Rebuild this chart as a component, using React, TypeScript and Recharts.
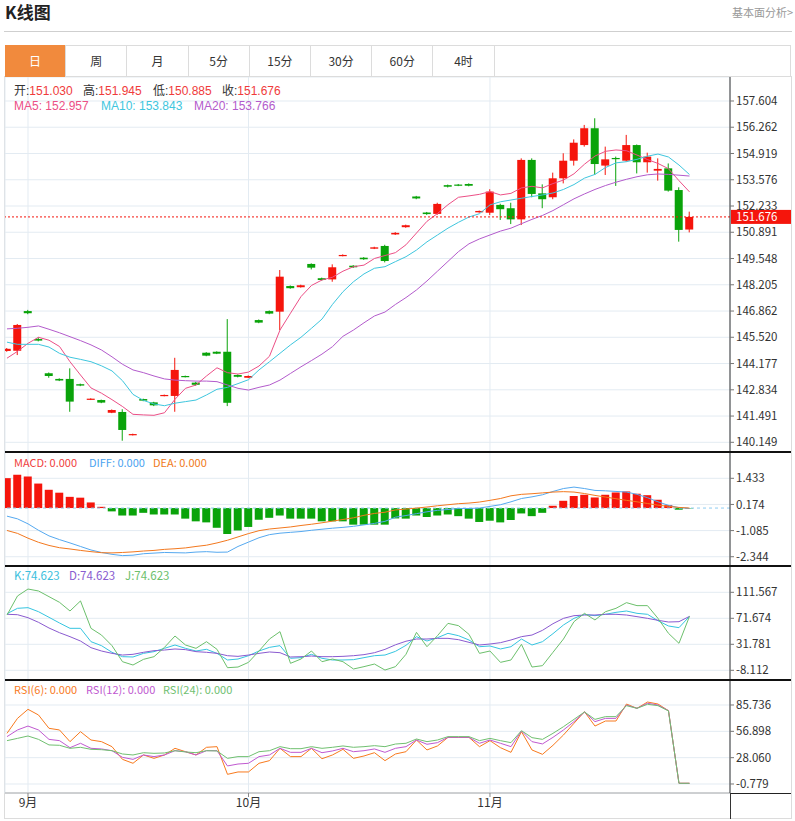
import React from 'react';
import { ComposedChart, Bar, Line, XAxis, YAxis, CartesianGrid, ReferenceLine, Cell } from 'recharts';

const dates = ['08-29','08-30','09-02','09-03','09-04','09-05','09-06','09-09','09-10','09-11','09-12','09-13','09-16','09-17','09-18','09-19','09-20','09-23','09-24','09-25','09-26','09-27','09-30','10-01','10-02','10-03','10-04','10-07','10-08','10-09','10-10','10-11','10-14','10-15','10-16','10-17','10-18','10-21','10-22','10-23','10-24','10-25','10-28','10-29','10-30','10-31','11-01','11-04','11-05','11-06','11-07','11-08','11-11','11-12','11-13','11-14','11-15','11-18','11-19','11-20','11-21','11-22','11-25','11-26','11-27','11-28'];

const openP = [144.82,144.83,146.86,145.43,143.68,143.39,143.39,143.12,142.33,142.31,
  141.66,141.70,140.52,142.36,142.19,142.52,142.52,143.54,143.20,144.73,
  144.78,144.78,143.59,143.45,146.40,146.86,146.83,148.14,148.08,149.27,
  148.54,148.48,149.68,149.18,149.59,150.05,150.19,150.78,151.15,152.72,
  151.90,151.83,153.30,153.33,153.36,151.91,151.89,152.29,152.12,151.55,
  154.59,152.88,152.68,153.65,154.55,155.35,156.21,154.30,154.69,154.55,
  155.35,154.47,154.04,154.16,153.05,151.03];
const highP = [144.97,146.20,146.92,145.52,143.72,143.42,143.93,143.15,142.40,142.33,
  141.83,141.84,140.59,142.38,142.22,142.59,144.47,143.56,143.24,144.76,
  144.80,146.45,143.62,143.57,146.43,146.89,148.96,148.17,148.21,149.30,
  148.57,149.25,149.76,149.21,149.62,150.15,150.25,150.90,151.28,152.75,
  151.93,152.40,153.33,153.36,153.39,152.00,153.09,152.35,152.40,154.67,
  154.67,153.34,153.94,154.93,155.64,156.38,156.72,155.27,154.76,155.87,
  155.38,154.96,154.67,154.41,153.19,151.945];
const lowP = [144.78,144.61,146.70,145.31,143.45,143.28,141.71,143.02,142.31,142.15,
  141.64,140.23,140.50,142.25,142.00,142.50,141.71,143.47,143.04,144.55,
  144.66,142.00,143.47,143.43,146.24,146.70,145.89,148.00,148.06,148.99,
  148.42,148.36,149.66,149.07,149.48,150.03,149.35,150.75,151.12,152.58,
  151.78,151.78,153.18,153.25,153.24,151.89,151.77,151.52,151.31,151.26,
  152.68,152.12,152.58,153.39,154.30,155.27,153.82,153.82,153.26,154.50,
  153.90,153.94,153.53,152.97,150.41,150.885];
const closeP = [144.93,146.15,146.75,145.35,143.54,143.31,142.23,143.05,142.38,142.18,
  141.80,140.78,140.57,142.28,142.04,142.57,143.85,143.49,143.09,144.58,
  144.68,142.17,143.50,143.54,146.27,146.73,148.62,148.03,148.18,149.08,
  148.45,149.10,149.73,149.10,149.51,150.12,149.42,150.86,151.25,152.62,
  151.82,152.34,153.22,153.28,153.27,151.98,152.97,152.07,151.55,154.59,
  152.85,152.58,153.65,154.55,155.47,156.21,154.38,154.62,154.65,155.35,
  154.47,154.76,154.13,153.02,151.01,151.676];

const ma5 = [144.45,144.80,145.21,145.52,145.37,145.05,144.27,143.59,142.93,142.66,
  142.33,141.98,141.58,141.55,141.53,141.66,142.35,142.91,143.08,143.54,
  143.96,143.71,143.64,143.74,144.05,144.55,145.89,146.75,147.60,148.17,
  148.45,148.59,148.90,149.13,149.21,149.55,149.70,149.85,150.25,150.85,
  151.45,151.85,152.30,152.68,152.75,152.83,152.97,152.80,152.88,153.16,
  153.24,153.16,153.38,153.56,153.88,154.37,154.79,155.03,155.10,155.06,
  154.84,154.61,154.41,154.14,153.53,152.957];
const ma10 = [145.27,145.16,145.16,145.16,145.02,144.70,144.50,144.39,144.27,144.06,
  143.80,143.30,142.60,142.29,142.11,142.02,142.15,142.23,142.31,142.57,
  142.86,142.96,143.15,143.35,143.85,144.27,144.70,145.13,145.52,145.98,
  146.45,147.20,147.85,148.36,148.76,149.05,149.13,149.39,149.64,149.98,
  150.40,150.75,151.10,151.40,151.67,151.84,152.29,152.45,152.54,152.63,
  152.72,152.80,152.90,153.08,153.33,153.66,153.85,154.20,154.44,154.50,
  154.62,154.78,154.89,154.74,154.33,153.843];
const ma20 = [145.95,145.98,146.03,146.10,145.93,145.75,145.55,145.35,145.13,144.87,
  144.52,144.14,143.85,143.71,143.54,143.39,143.33,143.30,143.28,143.28,
  143.25,143.08,142.91,142.82,142.96,143.08,143.33,143.67,144.01,144.33,
  144.66,145.04,145.57,145.89,146.26,146.61,146.81,147.20,147.55,147.94,
  148.40,148.90,149.40,149.90,150.30,150.55,150.75,150.95,151.10,151.33,
  151.55,151.75,152.00,152.30,152.60,152.85,153.08,153.28,153.45,153.60,
  153.73,153.83,153.87,153.85,153.81,153.766];

const macdHist = [1.44,1.60,1.52,1.18,0.88,0.74,0.54,0.50,0.27,0.06,
  -0.16,-0.36,-0.36,-0.23,-0.31,-0.31,-0.31,-0.51,-0.64,-0.69,
  -0.95,-1.25,-1.08,-0.91,-0.56,-0.47,-0.36,-0.51,-0.51,-0.51,
  -0.64,-0.64,-0.64,-0.80,-0.80,-0.80,-0.80,-0.50,-0.51,-0.36,
  -0.43,-0.36,-0.31,-0.39,-0.51,-0.67,-0.61,-0.69,-0.58,-0.26,
  -0.39,-0.23,0.11,0.35,0.58,0.64,0.51,0.64,0.75,0.80,
  0.69,0.62,0.40,0.14,-0.08,-0.02];
const diffV = [-0.39,-0.52,-0.76,-1.07,-1.34,-1.52,-1.68,-1.85,-2.02,-2.14,
  -2.23,-2.29,-2.27,-2.20,-2.17,-2.14,-2.15,-2.16,-2.12,-2.10,
  -2.13,-2.12,-1.85,-1.64,-1.43,-1.28,-1.21,-1.17,-1.13,-1.07,
  -1.02,-0.97,-0.93,-0.88,-0.81,-0.74,-0.64,-0.44,-0.36,-0.27,
  -0.18,-0.11,-0.07,-0.02,-0.02,0.00,0.08,0.16,0.30,0.46,
  0.54,0.64,0.80,0.94,1.01,0.94,0.85,0.83,0.80,0.77,
  0.66,0.50,0.30,0.13,0.02,-0.02];
const deaV = [-1.08,-1.22,-1.45,-1.65,-1.80,-1.91,-1.97,-2.04,-2.10,-2.15,
  -2.16,-2.14,-2.11,-2.07,-2.04,-1.99,-1.96,-1.92,-1.85,-1.79,
  -1.68,-1.55,-1.39,-1.23,-1.09,-1.01,-0.96,-0.91,-0.84,-0.78,
  -0.71,-0.63,-0.55,-0.47,-0.35,-0.26,-0.20,-0.09,-0.05,0.00,
  0.05,0.11,0.16,0.21,0.24,0.29,0.37,0.46,0.59,0.66,
  0.69,0.73,0.77,0.79,0.77,0.70,0.61,0.53,0.45,0.37,
  0.30,0.22,0.14,0.08,0.03,0.00];

const kV = [78.8,87.0,88.0,81.8,73.2,64.5,56.3,56.3,35.8,29.7,
  19.5,12.8,12.3,17.9,20.5,25.6,30.7,25.6,21.5,24.1,
  17.9,7.7,9.2,14.3,21.5,27.1,29.7,10.3,11.3,16.4,
  10.3,7.7,7.7,8.2,11.3,14.3,15.3,21.0,30.2,43.5,
  36.8,41.9,48.6,45.0,38.4,28.1,29.2,24.6,28.1,39.9,
  30.7,35.8,48.1,61.4,71.6,77.8,75.7,77.8,80.8,82.9,
  79.3,77.8,68.0,59.9,57.3,74.623];
const dV = [77.8,77.2,72.6,65.5,56.8,49.6,43.5,36.8,26.6,21.5,
  17.9,15.3,16.4,19.5,22.0,23.0,24.6,23.6,20.5,19.5,
  17.9,14.3,13.3,15.3,17.9,20.0,18.9,12.3,12.8,13.8,
  12.8,12.8,13.3,14.3,15.9,18.9,24.0,31.0,36.5,39.9,
  39.9,40.9,40.9,38.9,34.8,30.7,32.2,34.3,38.4,43.5,
  46.0,53.2,63.4,71.6,75.7,76.7,76.7,77.8,77.8,76.7,
  74.2,71.6,68.6,66.0,66.5,74.623];
const jV = [76.7,105.9,116.6,113.6,104.9,96.2,82.9,98.3,56.3,46.0,
  29.7,5.1,0.0,8.7,12.8,27.1,44.5,30.7,25.6,35.8,
  24.1,-4.1,-3.1,4.1,21.5,39.9,51.2,2.6,9.2,21.5,
  5.1,9.2,5.1,-6.1,-2.5,1.5,-7.7,-2.5,16.4,50.1,
  28.1,45.0,63.9,60.4,47.1,17.9,21.5,4.1,7.7,31.7,
  -3.1,-1.0,19.5,39.9,66.5,79.3,69.1,81.8,87.0,95.7,
  91.1,91.1,71.6,48.6,33.3,74.623];

const rsi6V = [54.7,71.1,81.0,74.8,60.2,58.4,45.6,56.5,47.4,45.6,
  40.1,26.2,21.9,31.0,27.3,31.0,38.3,34.6,31.0,39.4,
  40.1,9.8,12.4,12.4,21.9,24.8,38.3,29.2,29.2,38.3,
  26.9,31.0,37.2,27.3,29.9,33.5,24.8,32.1,34.6,47.4,
  36.5,40.9,50.3,50.3,50.3,40.1,46.7,39.0,33.9,56.5,
  36.5,31.7,41.6,52.9,65.7,78.4,62.7,68.2,68.2,86.8,
  82.1,89.0,86.8,79.5,0,0];
const rsi12V = [51.1,58.4,62.7,58.4,48.1,46.7,39.0,43.8,38.3,37.6,
  35.7,28.4,26.2,31.0,29.2,31.0,35.7,34.6,31.0,35.7,
  35.7,19.0,21.1,21.9,29.2,31.0,38.3,33.9,33.9,38.3,
  33.5,35.4,38.3,34.6,35.7,37.6,33.9,38.3,40.1,47.4,
  42.7,44.5,50.3,50.3,50.3,43.8,47.4,43.8,40.1,57.3,
  45.6,43.1,50.3,58.4,67.5,78.1,67.5,71.1,71.1,85.7,
  82.1,87.6,85.7,79.5,0,0];
const rsi24V = [46.7,49.2,51.8,48.1,42.0,41.6,38.3,39.4,37.2,36.8,
  35.7,32.1,31.0,33.5,32.8,33.2,35.7,34.3,33.5,35.7,
  35.4,27.3,29.2,29.2,34.6,35.7,40.1,37.9,37.9,40.1,
  38.3,39.4,40.9,39.4,40.1,41.2,40.1,43.0,43.8,48.5,
  45.6,47.4,51.1,51.1,51.1,46.7,49.2,46.7,44.5,57.6,
  50.0,48.1,54.7,62.0,70.0,78.1,70.0,73.0,73.0,85.0,
  82.1,86.5,85.0,79.2,0,0];

const monthTickIdx = [2, 23, 46];
const monthLabels = ['9月', '10月', '11月'];
const priceTicks = [140.149,141.491,142.834,144.177,145.520,146.862,148.205,149.548,150.891,152.233,153.576,154.919,156.262,157.604];
const macdTicks = [1.433, 0.174, -1.085, -2.344];
const kdjTicks = [111.567, 71.674, 31.781, -8.112];
const rsiTicks = [85.736, 56.898, 28.060, -0.779];
const tabs = ['日', '周', '月', '5分', '15分', '30分', '60分', '4时'];
const lastOpen = 151.030, lastHigh = 151.945, lastLow = 150.885, lastClose = 151.676;

const RED = '#f5150c';
const GREEN = '#0aa30a';
const GRID = '#e3ebf2';
const FONT = "'Noto Sans CJK SC', 'Liberation Sans', Arial, sans-serif";
const LATIN = "'Liberation Sans', 'Noto Sans CJK SC', Arial, sans-serif";
const X_DOMAIN: [number, number] = [-0.19, 68.86];
const CH_W = 791;
const MARGIN = { top: 0, right: 0, bottom: 0, left: 5 };

const Candle = (props: any) => {
  const { x, y, width, height, payload } = props;
  if (x == null || !payload) return null;
  const { open, close, high, low } = payload;
  const up = close >= open;
  const color = up ? RED : GREEN;
  const ratio = height / (high - low);
  const yO = y + (high - open) * ratio;
  const yC = y + (high - close) * ratio;
  const top = Math.min(yO, yC);
  const bh = Math.max(Math.abs(yO - yC), 1.2);
  const cx = x + width / 2;
  return (
    <g>
      <line x1={cx} x2={cx} y1={y} y2={y + height} stroke={color} strokeWidth={1} />
      <rect x={x} y={top} width={width} height={bh} fill={color} />
    </g>
  );
};

const PriceTag = (props: any) => {
  const vb = props.viewBox || {};
  const x = (vb.x || 0) + (vb.width || 0);
  const y = vb.y || 0;
  return (
    <g>
      <rect x={x + 1} y={y - 7} width={60} height={14} fill={RED} />
      <text x={x + 6} y={y + 4} fill="#fff" fontSize={11.5} fontFamily={FONT}>{lastClose.toFixed(3)}</text>
    </g>
  );
};

const yAxisCommon = {
  orientation: 'right' as const,
  width: 61,
  interval: 0 as const,
  allowDataOverflow: true,
  tick: { fontSize: 11.5, fill: '#333', fontFamily: FONT },
  tickFormatter: (v: number) => v.toFixed(3),
  tickSize: 4,
  tickMargin: 2,
  axisLine: { stroke: '#333' },
  tickLine: { stroke: '#777' },
};

const Legend = ({ top, size = 12, font = FONT, items }: { top: number; size?: number; font?: string; items: { left: number; parts: { t: string; c: string }[] }[] }) => (
  <>
    {items.map((it, k) => (
      <div key={k} style={{ position: 'absolute', left: it.left, top: top - 7, height: 14, lineHeight: '14px', fontSize: size, fontFamily: font, whiteSpace: 'nowrap' }}>
        {it.parts.map((p, m) => <span key={m} style={{ color: p.c }}>{p.t}</span>)}
      </div>
    ))}
  </>
);

export default function App() {
  const rows = dates.map((date, i) => ({
    i, date,
    open: openP[i], high: highP[i], low: lowP[i], close: closeP[i],
    ma5: ma5[i], ma10: ma10[i], ma20: ma20[i],
    macd: macdHist[i], diff: diffV[i], dea: deaV[i],
    k: kV[i], d: dV[i], j: jV[i],
    rsi6: rsi6V[i], rsi12: rsi12V[i], rsi24: rsi24V[i],
  }));
  const n = rows.length;
  const last = rows[n - 1];

  const hiddenX = <XAxis dataKey="i" type="number" domain={X_DOMAIN} allowDataOverflow ticks={monthTickIdx} hide />;

  return (
    <div style={{ position: 'absolute', left: 0, top: 0, width: 795, height: 821, background: '#fff', overflow: 'hidden', fontFamily: FONT }}>
      <div style={{ position: 'absolute', left: 5, top: 0, fontSize: 17, lineHeight: '23px', fontWeight: 'bold', color: '#222' }}>K线图</div>
      <div style={{ position: 'absolute', left: 732, top: 4, fontSize: 11, lineHeight: '16px', color: '#999', whiteSpace: 'nowrap' }}>基本面分析&gt;</div>
      <div style={{ position: 'absolute', left: 4, top: 31, width: 788, height: 1, background: '#cfcfcf' }} />

      {/* tabs */}
      <div style={{ position: 'absolute', left: 5, top: 45, width: 786, height: 32, boxSizing: 'border-box', border: '1px solid #dcdcdc' }}>
        {tabs.map((t, k) => (
          <div key={t} style={{ position: 'absolute', left: k * 61.2 - 1, top: -1, width: 61.2, height: 32, boxSizing: 'border-box', borderRight: '1px solid #dcdcdc', background: k === 0 ? '#f18a3d' : 'transparent', color: k === 0 ? '#fff' : '#333', fontSize: 12, lineHeight: '32px', textAlign: 'center' }}>{t}</div>
        ))}
      </div>

      {/* chart frame */}
      <div style={{ position: 'absolute', left: 4, top: 76, width: 788, height: 743, boxSizing: 'border-box', borderLeft: '1px solid #dcdcdc', borderRight: '1px solid #dcdcdc', borderBottom: '1px solid #dcdcdc' }} />

      {/* main candlestick chart */}
      <div style={{ position: 'absolute', left: 0, top: 77 }}>
        <ComposedChart width={CH_W} height={375} data={rows} margin={MARGIN}>
          <CartesianGrid stroke={GRID} />
          {hiddenX}
          <YAxis {...yAxisCommon} domain={[139.653, 158.831]} ticks={priceTicks} />
          <Bar dataKey={(d: any) => [d.low, d.high]} shape={(p: any) => <Candle {...p} />} barSize={8} isAnimationActive={false} />
          <Line dataKey="ma5" stroke="#ec4f86" strokeWidth={1} dot={false} isAnimationActive={false} />
          <Line dataKey="ma10" stroke="#3ec6de" strokeWidth={1} dot={false} isAnimationActive={false} />
          <Line dataKey="ma20" stroke="#b35bcc" strokeWidth={1} dot={false} isAnimationActive={false} />
          <ReferenceLine y={lastClose} stroke={RED} strokeDasharray="2 2" label={<PriceTag />} />
        </ComposedChart>
      </div>
      <Legend top={91} font={LATIN} items={[
        { left: 14, parts: [{ t: '开:', c: '#333' }, { t: lastOpen.toFixed(3), c: '#f03b3b' }] },
        { left: 83, parts: [{ t: '高:', c: '#333' }, { t: lastHigh.toFixed(3), c: '#f03b3b' }] },
        { left: 153, parts: [{ t: '低:', c: '#333' }, { t: lastLow.toFixed(3), c: '#f03b3b' }] },
        { left: 222, parts: [{ t: '收:', c: '#333' }, { t: lastClose.toFixed(3), c: '#f03b3b' }] },
      ]} />
      <Legend top={106} font={LATIN} items={[
        { left: 14, parts: [{ t: 'MA5: ' + last.ma5.toFixed(3), c: '#ec4f86' }] },
        { left: 101, parts: [{ t: 'MA10: ' + last.ma10.toFixed(3), c: '#3ec6de' }] },
        { left: 194, parts: [{ t: 'MA20: ' + last.ma20.toFixed(3), c: '#b35bcc' }] },
      ]} />

      {/* MACD */}
      <div style={{ position: 'absolute', left: 0, top: 452 }}>
        <ComposedChart width={CH_W} height={114} data={rows} margin={MARGIN}>
          <CartesianGrid stroke={GRID} />
          {hiddenX}
          <YAxis {...yAxisCommon} domain={[-2.791, 2.700]} ticks={macdTicks} />
          <ReferenceLine y={0} stroke="#8fcdf2" strokeDasharray="3 3" />
          <Bar dataKey="macd" barSize={8} isAnimationActive={false}>
            {rows.map((r, k) => <Cell key={k} fill={r.macd >= 0 ? RED : GREEN} />)}
          </Bar>
          <Line dataKey="diff" stroke="#55a9f0" strokeWidth={1} dot={false} isAnimationActive={false} />
          <Line dataKey="dea" stroke="#f3781e" strokeWidth={1} dot={false} isAnimationActive={false} />
        </ComposedChart>
      </div>
      <Legend top={462} size={11} items={[
        { left: 14, parts: [{ t: 'MACD: 0.000', c: '#f04040' }] },
        { left: 89, parts: [{ t: 'DIFF: 0.000', c: '#4aa3f0' }] },
        { left: 153, parts: [{ t: 'DEA: 0.000', c: '#f07a20' }] },
      ]} />

      {/* KDJ */}
      <div style={{ position: 'absolute', left: 0, top: 566 }}>
        <ComposedChart width={CH_W} height={114} data={rows} margin={MARGIN}>
          <CartesianGrid stroke={GRID} />
          {hiddenX}
          <YAxis {...yAxisCommon} domain={[-22.99, 151.92]} ticks={kdjTicks} />
          <Line dataKey="k" stroke="#35c5e0" strokeWidth={1} dot={false} isAnimationActive={false} />
          <Line dataKey="d" stroke="#8a5ad0" strokeWidth={1} dot={false} isAnimationActive={false} />
          <Line dataKey="j" stroke="#6cc06c" strokeWidth={1} dot={false} isAnimationActive={false} />
        </ComposedChart>
      </div>
      <Legend top={575} size={11.5} items={[
        { left: 14, parts: [{ t: 'K:' + last.k.toFixed(3), c: '#3cc0dd' }] },
        { left: 69, parts: [{ t: 'D:' + last.d.toFixed(3), c: '#8a5cd0' }] },
        { left: 125, parts: [{ t: 'J:' + last.j.toFixed(3), c: '#6cc06c' }] },
      ]} />

      {/* RSI */}
      <div style={{ position: 'absolute', left: 0, top: 680 }}>
        <ComposedChart width={CH_W} height={139} data={rows} margin={MARGIN}>
          <CartesianGrid stroke={GRID} />
          <XAxis dataKey="i" type="number" domain={X_DOMAIN} allowDataOverflow ticks={monthTickIdx} interval={0}
            height={26} tickSize={4} tickMargin={1}
            tickFormatter={(v: number) => monthLabels[monthTickIdx.indexOf(v)]}
            tick={{ fontSize: 12, fill: '#333', fontFamily: FONT }}
            axisLine={{ stroke: '#aaa' }} tickLine={{ stroke: '#888' }} />
          <YAxis {...yAxisCommon} domain={[-10.635, 113.11]} ticks={rsiTicks} />
          <Line dataKey="rsi6" stroke="#f87a1e" strokeWidth={1} dot={false} isAnimationActive={false} />
          <Line dataKey="rsi12" stroke="#c059d0" strokeWidth={1} dot={false} isAnimationActive={false} />
          <Line dataKey="rsi24" stroke="#70c070" strokeWidth={1} dot={false} isAnimationActive={false} />
        </ComposedChart>
      </div>
      <Legend top={689} size={11} items={[
        { left: 14, parts: [{ t: 'RSI(6): 0.000', c: '#f87a1e' }] },
        { left: 86, parts: [{ t: 'RSI(12): 0.000', c: '#c059d0' }] },
        { left: 163, parts: [{ t: 'RSI(24): 0.000', c: '#70c070' }] },
      ]} />

      {/* panel separators */}
      <div style={{ position: 'absolute', left: 5, top: 451, width: 786, height: 2, background: '#111' }} />
      <div style={{ position: 'absolute', left: 5, top: 565, width: 786, height: 2, background: '#111' }} />
      <div style={{ position: 'absolute', left: 5, top: 679, width: 786, height: 2, background: '#111' }} />
      <div style={{ position: 'absolute', left: 730, top: 793, width: 61, height: 1, background: '#222' }} />
      <div style={{ position: 'absolute', left: 730, top: 793, width: 1, height: 26, background: '#333' }} />
    </div>
  );
}
